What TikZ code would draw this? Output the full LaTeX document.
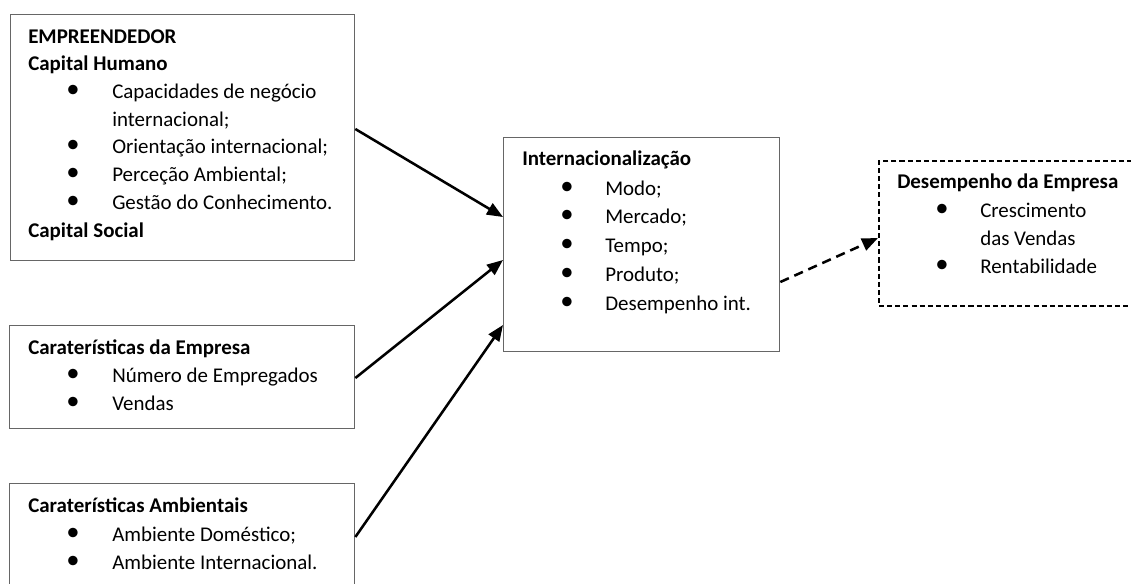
\documentclass[tikz,border=0pt]{standalone}
\usepackage{fontspec}
\setmainfont{Carlito}
\usetikzlibrary{arrows.meta}
\tikzset{
  box/.style={draw=black!60, line width=1pt, anchor=north west, inner sep=0pt},
  dashbox/.style={draw=black, line width=1.5pt, dash pattern=on 3.8pt off 2.3pt, anchor=north west, inner sep=0pt},
  txt/.style={anchor=base west, inner sep=0pt, font=\fontsize{15.7}{18}\selectfont},
  head/.style={txt, font=\fontsize{15.7}{18}\selectfont\bfseries},
  bul/.style={anchor=center, inner sep=0pt, yshift=5.2pt, font=\fontsize{20}{20}\selectfont},
  arr/.style={line width=1.9pt, -{Triangle[length=12pt,width=9.5pt]}},
  darr/.style={arr, dash pattern=on 7pt off 4.5pt},
}
\begin{document}
\begin{tikzpicture}[x=0.75pt, y=-0.75pt]
  \useasboundingbox (0,0) rectangle (1131,583);
  \clip (0,0) rectangle (1131,583);

  % boxes
  \node[box, minimum width=344*0.75pt, minimum height=246*0.75pt] (emp) at (10,14) {};
  \node[box, minimum width=345*0.75pt, minimum height=103*0.75pt] (emp2) at (9,325) {};
  \node[box, minimum width=345*0.75pt, minimum height=130*0.75pt] (amb) at (9,483) {};
  \node[box, minimum width=276*0.75pt, minimum height=214*0.75pt] (int) at (503,137) {};
  \node[dashbox, minimum width=290*0.75pt, minimum height=145*0.75pt] (des) at (878,160) {};

  % Empreendedor
  \node[head] (e0) at (28,43) {EMPREENDEDOR};
  \node[head] (e1) at (28,70.7) {Capital Humano};
  \node[bul]  (eb1) at (73,98.4) {•};
  \node[txt]  (e2) at (112,98.4) {Capacidades de negócio};
  \node[txt]  (e3) at (112,126.1) {internacional;};
  \node[bul]  (eb2) at (73,153.8) {•};
  \node[txt]  (e4) at (112,153.8) {Orientação internacional;};
  \node[bul]  (eb3) at (73,181.5) {•};
  \node[txt]  (e5) at (112,181.5) {Perceção Ambiental;};
  \node[bul]  (eb4) at (73,209.2) {•};
  \node[txt]  (e6) at (112,209.2) {Gestão do Conhecimento.};
  \node[head] (e7) at (28,237.5) {Capital Social};

  % Caracteristicas da empresa
  \node[head] (c0) at (28,354) {Caraterísticas da Empresa};
  \node[bul]  (cb1) at (73,382) {•};
  \node[txt]  (c1) at (112,382) {Número de Empregados};
  \node[bul]  (cb2) at (73,410) {•};
  \node[txt]  (c2) at (112,410) {Vendas};

  % Caracteristicas ambientais
  \node[head] (a0) at (28,512.5) {Caraterísticas Ambientais};
  \node[bul]  (ab1) at (73,541) {•};
  \node[txt]  (a1) at (112,541) {Ambiente Doméstico;};
  \node[bul]  (ab2) at (73,569.5) {•};
  \node[txt]  (a2) at (112,569.5) {Ambiente Internacional.};

  % Internacionalizacao
  \node[head] (i0) at (522,165.5) {Internacionalização};
  \node[bul]  (ib1) at (567,195) {•};
  \node[txt]  (i1) at (605,195) {Modo;};
  \node[bul]  (ib2) at (567,223.7) {•};
  \node[txt]  (i2) at (605,223.7) {Mercado;};
  \node[bul]  (ib3) at (567,252.4) {•};
  \node[txt]  (i3) at (605,252.4) {Tempo;};
  \node[bul]  (ib4) at (567,281.1) {•};
  \node[txt]  (i4) at (605,281.1) {Produto;};
  \node[bul]  (ib5) at (567,310) {•};
  \node[txt]  (i5) at (605,310) {Desempenho int.};

  % Desempenho da empresa
  \node[head] (d0) at (897,188) {Desempenho da Empresa};
  \node[bul]  (db1) at (942,217) {•};
  \node[txt]  (d1) at (980,217) {Crescimento};
  \node[txt]  (d2) at (980,245) {das Vendas};
  \node[bul]  (db2) at (942,273) {•};
  \node[txt]  (d3) at (980,273) {Rentabilidade};

  % connectors
  \draw[arr]  (emp.east |- 0,129) -- (int.west |- 0,217);
  \draw[arr]  (emp2.east |- 0,378) -- (int.west |- 0,260);
  \draw[arr]  (amb.east |- 0,537) -- (int.west |- 0,325);
  \draw[darr] (int.east |- 0,282) -- (des.west |- 0,238);
\end{tikzpicture}
\end{document}
